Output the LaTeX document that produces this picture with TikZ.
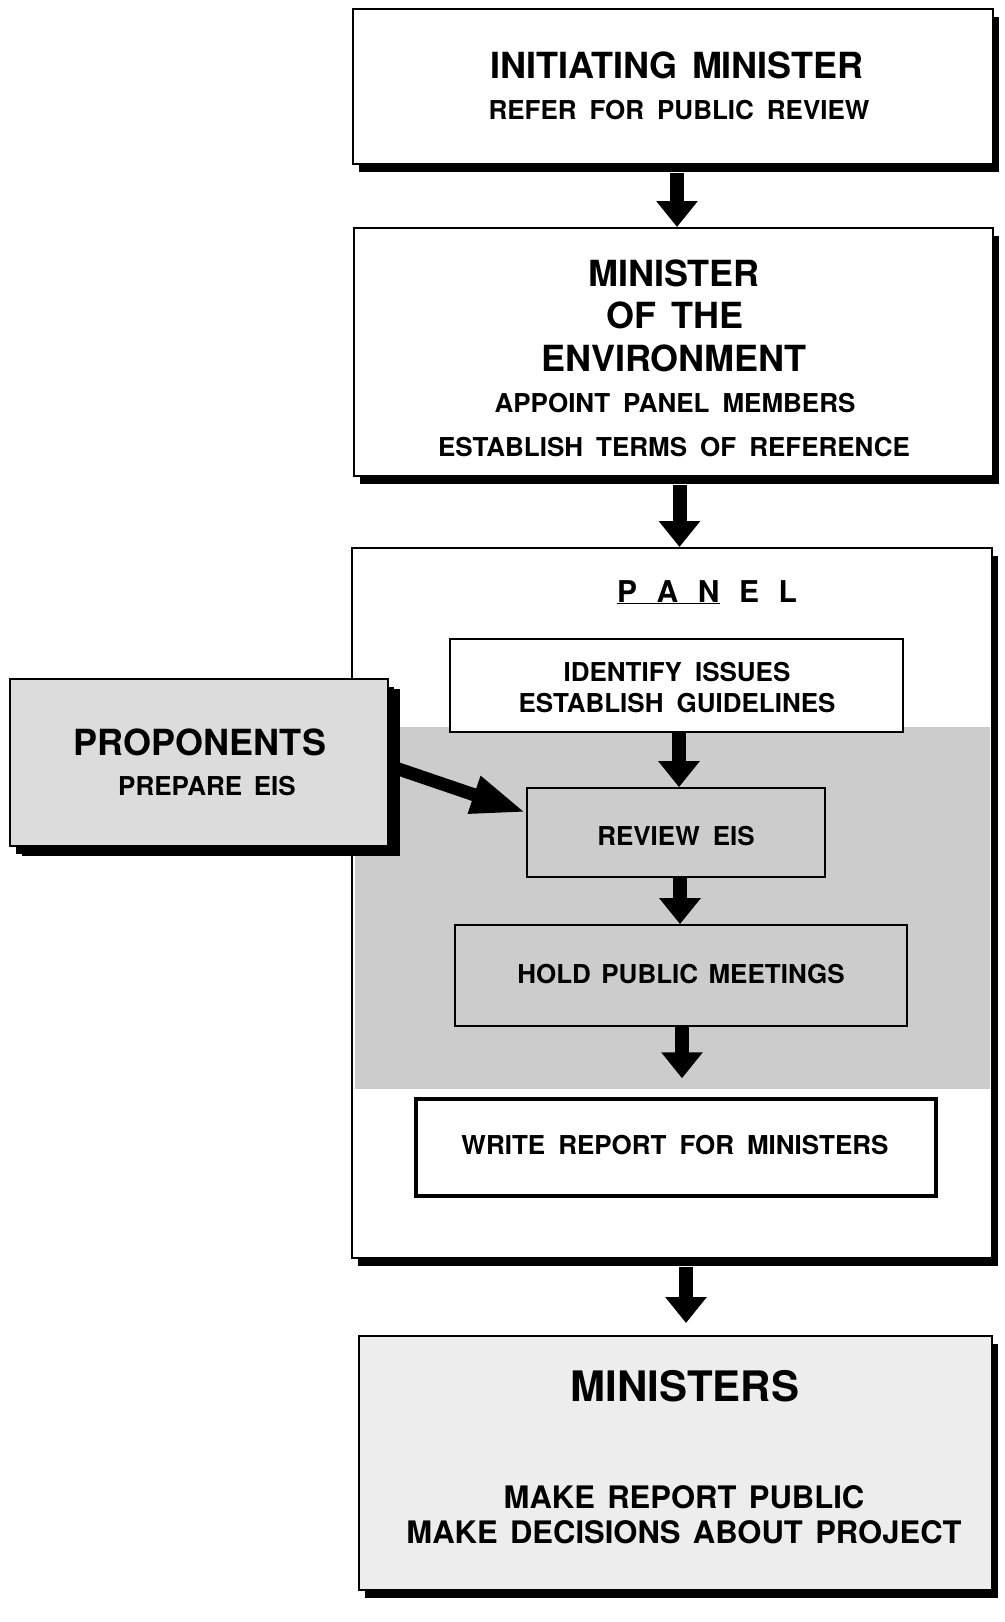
\documentclass[tikz,border=0pt]{standalone}
\usepackage{fontspec}
\setmainfont{TeX Gyre Heros}
\usetikzlibrary{arrows.meta,shadows}
\definecolor{panelgrey}{RGB}{204,204,204}
\definecolor{propgrey}{RGB}{220,220,220}
\definecolor{mingrey}{RGB}{237,237,237}
\newlength{\wordgap}
\begin{document}
\begin{tikzpicture}[x=1pt,y=-1pt,
  outerbox/.style={draw=black, line width=2pt, fill=white, inner sep=0pt,
    general shadow={fill=black, shadow xshift=6pt, shadow yshift=-8pt}},
  innerbox/.style={draw=black, line width=1.8pt, inner sep=0pt},
  gap/.style={execute at begin node={\setlength{\wordgap}{#1}\spaceskip=\wordgap\relax}},
  head/.style={inner sep=0pt, font=\bfseries\fontsize{36}{40}\selectfont, gap=0.4em},
  body/.style={inner sep=0pt, font=\bfseries\fontsize{26}{30}\selectfont, gap=0.5em},
  flow/.style={line width=14pt, -{Triangle[width=40pt,length=26pt]}},
  propflow/.style={line width=13pt, -{Triangle[width=36pt,length=55pt]}}]
\fill[white] (0,0) rectangle (1004,1622);
\useasboundingbox (0,0) rectangle (1004,1622);

% outer boxes
\node[outerbox, minimum width=640pt, minimum height=155pt] (init) at (673,86.5) {};
\node[outerbox, minimum width=639pt, minimum height=248pt] (env) at (673.5,352) {};
\node[outerbox, minimum width=640pt, minimum height=710pt] (panel) at (672,903) {};
\fill[panelgrey] (355,727) rectangle (990,1089);
\node[outerbox, fill=mingrey, minimum width=633pt, minimum height=254pt] (mins) at (675.5,1463) {};

% inner boxes
\node[innerbox, fill=white, minimum width=453pt, minimum height=93pt] (ident) at (676.5,685.5) {};
\node[innerbox, minimum width=298pt, minimum height=89pt] (review) at (676,832.5) {};
\node[innerbox, minimum width=452pt, minimum height=101pt] (hold) at (681,975.5) {};
\node[innerbox, line width=3.5pt, fill=white, minimum width=520pt, minimum height=97pt] (write) at (676,1147.5) {};

% proponents
\node[outerbox, fill=propgrey, minimum width=378pt, minimum height=167pt,
  general shadow={fill=black, shadow xshift=12pt, shadow yshift=-10pt}] (prop) at (199,762.5) {};

% texts
\node[head] (t1a) at (677,65) {INITIATING MINISTER};
\node[body] (t1b) at (679,110) {REFER FOR PUBLIC REVIEW};
\node[head] (t2a) at (674,273) {MINISTER};
\node[head] (t2b) at (675,315) {OF THE};
\node[head] (t2c) at (674,358) {ENVIRONMENT};
\node[body] (t2d) at (675,403) {APPOINT PANEL MEMBERS};
\node[body] (t2e) at (674,447) {ESTABLISH TERMS OF REFERENCE};
\node[inner sep=0pt, font=\bfseries\fontsize{30}{34}\selectfont, anchor=base] (tpanel) at (707,602)
  {\underline{P\hspace{0.65em}A\hspace{0.65em}N}\hspace{0.65em}E\hspace{0.65em}L};
\node[body] (tid1) at (677,672) {IDENTIFY ISSUES};
\node[body] (tid2) at (677,703) {ESTABLISH GUIDELINES};
\node[body] (trev) at (676,836) {REVIEW EIS};
\node[body, gap=0.4em] (thold) at (681,974) {HOLD PUBLIC MEETINGS};
\node[body] (twrite) at (675,1145) {WRITE REPORT FOR MINISTERS};
\node[head] (tprop1) at (200,742) {PROPONENTS};
\node[body, gap=0.45em] (tprop2) at (207,786) {PREPARE EIS};
\node[inner sep=0pt, font=\bfseries\fontsize{42}{46}\selectfont] (tmin1) at (685,1386) {MINISTERS};
\node[inner sep=0pt, font=\bfseries\fontsize{31}{35}\selectfont, gap=0.4em] (tmin2) at (684,1497) {MAKE REPORT PUBLIC};
\node[inner sep=0pt, font=\bfseries\fontsize{31}{35}\selectfont, gap=0.4em] (tmin3) at (684,1532) {MAKE DECISIONS ABOUT PROJECT};

% connectors
\coordinate (a1) at ([xshift=4pt,yshift=-8pt]init.south);
\draw[flow] (a1) -- (a1 |- env.north);
\coordinate (a2) at ([xshift=6pt,yshift=-8pt]env.south);
\draw[flow] (a2) -- (a2 |- panel.north);
\coordinate (a3) at ([xshift=2.5pt]ident.south);
\draw[flow] (a3) -- (a3 |- review.north);
\coordinate (a4) at ([xshift=4pt]review.south);
\draw[flow] (a4) -- (a4 |- hold.north);
\coordinate (a5) at ([xshift=1pt]hold.south);
\draw[flow, shorten >=19pt] (a5) -- (a5 |- write.north);
\coordinate (a6) at ([xshift=14pt,yshift=-8pt]panel.south);
\draw[flow, shorten >=12pt] (a6) -- (a6 |- mins.north);
\coordinate (pt) at ([xshift=8pt,yshift=-6pt]prop.east);
\coordinate (ph) at ([yshift=20pt]review.west);
\draw[propflow] (pt) -- (ph);
\end{tikzpicture}
\end{document}
